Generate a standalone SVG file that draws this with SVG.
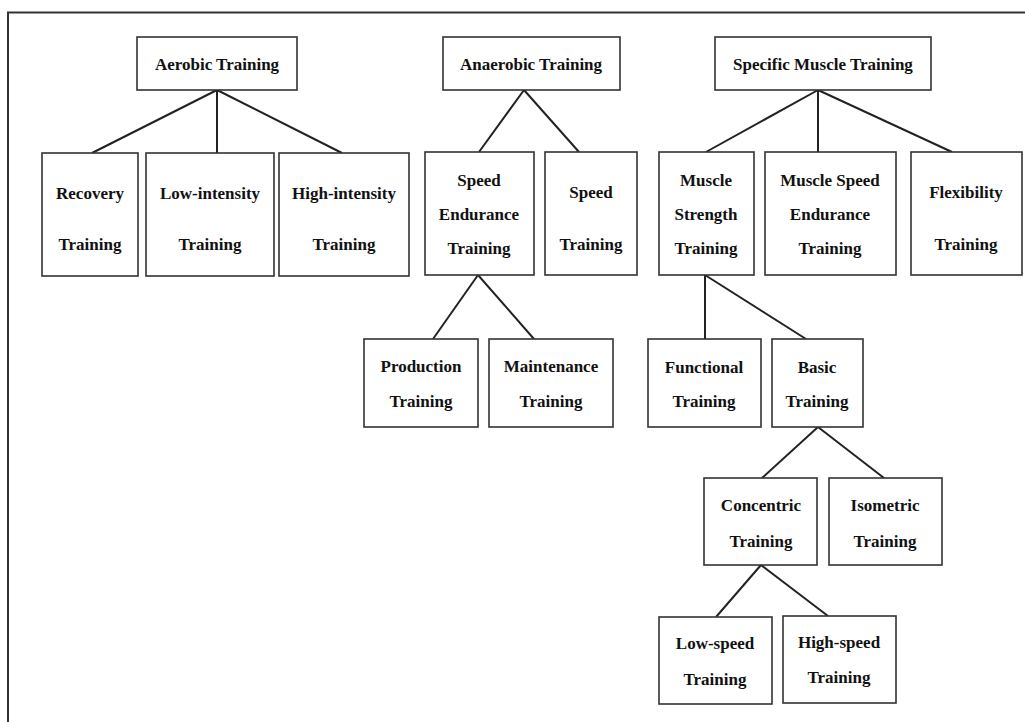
<svg xmlns="http://www.w3.org/2000/svg" width="1025" height="722" viewBox="0 0 1025 722">
<style>
.box{fill:#fff;stroke:#333;stroke-width:1.6}
.t{font-family:"Liberation Serif","Times New Roman",serif;font-weight:bold;font-size:17px;fill:#111;text-anchor:middle}
.c line{stroke:#222;stroke-width:2}
.frame{stroke:#333;stroke-width:2;fill:none}
</style>
<rect width="1025" height="722" fill="#fff"/>
<path class="frame" d="M8,722 V12.5 H1025"/>
<g class="c" id="connectors">
<line x1="217" y1="90" x2="92" y2="153"/>
<line x1="217" y1="90" x2="217" y2="153"/>
<line x1="217" y1="90" x2="342" y2="153"/>
<line x1="524" y1="90" x2="479" y2="152"/>
<line x1="524" y1="90" x2="579" y2="152"/>
<line x1="818" y1="90" x2="706" y2="152"/>
<line x1="818" y1="90" x2="818" y2="152"/>
<line x1="818" y1="90" x2="952" y2="152"/>
<line x1="478" y1="275" x2="433" y2="339"/>
<line x1="478" y1="275" x2="534" y2="339"/>
<line x1="705" y1="275" x2="705" y2="339"/>
<line x1="705" y1="275" x2="806" y2="339"/>
<line x1="818" y1="427" x2="762" y2="478"/>
<line x1="818" y1="427" x2="884" y2="478"/>
<line x1="761" y1="565" x2="716" y2="617"/>
<line x1="761" y1="565" x2="828" y2="616"/>
</g>
<g id="aerobic"><rect class="box" x="137" y="37" width="160" height="53"/><text class="t" x="217" y="70">Aerobic Training</text></g>
<g id="anaerobic"><rect class="box" x="443" y="37" width="177" height="53"/><text class="t" x="531" y="70">Anaerobic Training</text></g>
<g id="specific"><rect class="box" x="715" y="37" width="216" height="53"/><text class="t" x="823" y="70">Specific Muscle Training</text></g>
<g id="recovery"><rect class="box" x="42" y="153" width="96" height="123"/><text class="t" x="90" y="199">Recovery</text><text class="t" x="90" y="250">Training</text></g>
<g id="lowintensity"><rect class="box" x="146" y="153" width="128" height="123"/><text class="t" x="210" y="199">Low-intensity</text><text class="t" x="210" y="250">Training</text></g>
<g id="highintensity"><rect class="box" x="279" y="153" width="130" height="123"/><text class="t" x="344" y="199">High-intensity</text><text class="t" x="344" y="250">Training</text></g>
<g id="speedendurance"><rect class="box" x="425" y="152" width="109" height="123"/><text class="t" x="479" y="186">Speed</text><text class="t" x="479" y="220">Endurance</text><text class="t" x="479" y="254">Training</text></g>
<g id="speed"><rect class="box" x="545" y="152" width="92" height="123"/><text class="t" x="591" y="198">Speed</text><text class="t" x="591" y="250">Training</text></g>
<g id="musclestrength"><rect class="box" x="659" y="152" width="95" height="123"/><text class="t" x="706" y="186">Muscle</text><text class="t" x="706" y="220">Strength</text><text class="t" x="706" y="254">Training</text></g>
<g id="musclespeedendurance"><rect class="box" x="765" y="152" width="131" height="123"/><text class="t" x="830" y="186">Muscle Speed</text><text class="t" x="830" y="220">Endurance</text><text class="t" x="830" y="254">Training</text></g>
<g id="flexibility"><rect class="box" x="911" y="152" width="111" height="123"/><text class="t" x="966" y="198">Flexibility</text><text class="t" x="966" y="250">Training</text></g>
<g id="production"><rect class="box" x="364" y="339" width="114" height="88"/><text class="t" x="421" y="372">Production</text><text class="t" x="421" y="407">Training</text></g>
<g id="maintenance"><rect class="box" x="489" y="339" width="124" height="88"/><text class="t" x="551" y="372">Maintenance</text><text class="t" x="551" y="407">Training</text></g>
<g id="functional"><rect class="box" x="648" y="339" width="113" height="88"/><text class="t" x="704" y="373">Functional</text><text class="t" x="704" y="407">Training</text></g>
<g id="basic"><rect class="box" x="772" y="339" width="91" height="88"/><text class="t" x="817" y="373">Basic</text><text class="t" x="817" y="407">Training</text></g>
<g id="concentric"><rect class="box" x="704" y="478" width="113" height="87"/><text class="t" x="761" y="511">Concentric</text><text class="t" x="761" y="547">Training</text></g>
<g id="isometric"><rect class="box" x="829" y="478" width="113" height="87"/><text class="t" x="885" y="511">Isometric</text><text class="t" x="885" y="547">Training</text></g>
<g id="lowspeed"><rect class="box" x="659" y="617" width="113" height="87"/><text class="t" x="715" y="649">Low-speed</text><text class="t" x="715" y="685">Training</text></g>
<g id="highspeed"><rect class="box" x="783" y="616" width="113" height="87"/><text class="t" x="839" y="648">High-speed</text><text class="t" x="839" y="683">Training</text></g>
</svg>
